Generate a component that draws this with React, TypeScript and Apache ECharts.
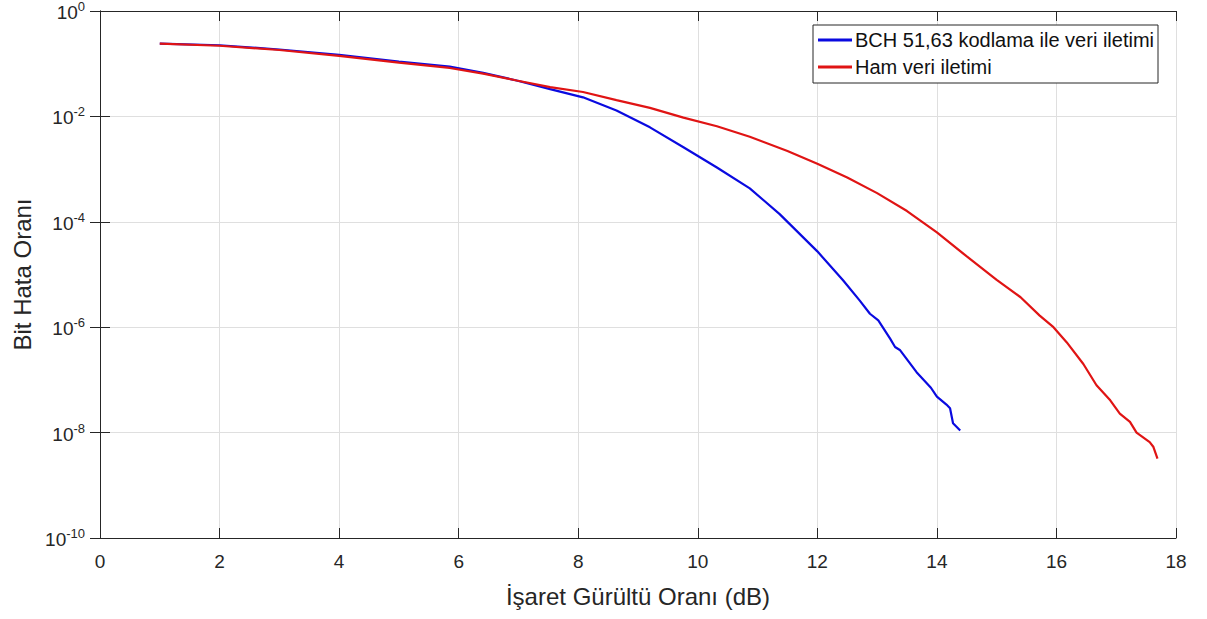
import React, { useEffect, useRef } from "react";
import * as echarts from "echarts";

const xTicks = [0, 2, 4, 6, 8, 10, 12, 14, 16, 18];
const yMin = 1e-10;
const yMax = 1;

const bchName = "BCH 51,63 kodlama ile veri iletimi";
const rawName = "Ham veri iletimi";

const bchX = [1, 2, 3, 4, 5, 5.85, 6.41, 6.97, 7.53, 8.08, 8.64, 9.2, 9.76, 10.32, 10.87, 11.37, 12.0, 12.43, 12.71, 12.88, 13.02, 13.22, 13.3, 13.38, 13.66, 13.9, 14.0, 14.16, 14.22, 14.27, 14.39];
const bchY = [0.24, 0.224, 0.186, 0.148, 0.11, 0.088, 0.067, 0.048, 0.033, 0.023, 0.0129, 6.2e-3, 2.6e-3, 1.07e-3, 4.3e-4, 1.4e-4, 2.75e-5, 7.8e-6, 3.2e-6, 1.8e-6, 1.35e-6, 6.0e-7, 4.2e-7, 3.7e-7, 1.4e-7, 7.1e-8, 4.8e-8, 3.4e-8, 2.9e-8, 1.5e-8, 1.1e-8];

const rawX = [1, 2, 3, 4, 5, 5.85, 6.41, 6.97, 7.53, 8.08, 8.64, 9.2, 9.76, 10.32, 10.87, 11.5, 12, 12.5, 13, 13.5, 14, 14.5, 15, 15.4, 15.72, 15.95, 16.17, 16.45, 16.67, 16.9, 17.06, 17.23, 17.34, 17.56, 17.62, 17.69];
const rawY = [0.24, 0.219, 0.182, 0.141, 0.105, 0.083, 0.065, 0.048, 0.036, 0.029, 0.0204, 0.0145, 9.5e-3, 6.5e-3, 4.1e-3, 2.2e-3, 1.26e-3, 6.9e-4, 3.5e-4, 1.6e-4, 6.3e-5, 2.2e-5, 7.9e-6, 3.7e-6, 1.66e-6, 1.0e-6, 5.2e-7, 2.0e-7, 7.9e-8, 4.1e-8, 2.3e-8, 1.6e-8, 1.0e-8, 6.6e-9, 5.4e-9, 3.2e-9];

const FONT = "'Liberation Sans', Arial, sans-serif";
const AX = "#262626";

export default function App() {
  const ref = useRef<HTMLDivElement>(null);
  useEffect(() => {
    if (!ref.current) return;
    const chart = echarts.init(ref.current, undefined, { renderer: "svg" });
    const pairs = (xs: number[], ys: number[]) => xs.map((x, i) => [x, ys[i]]);
    const common = {
      axisLine: { show: true, lineStyle: { color: AX, width: 1 } },
      axisTick: { show: true, inside: true, length: 10, lineStyle: { color: AX } },
    };
    chart.setOption({
      animation: false,
      backgroundColor: "#ffffff",
      textStyle: { fontFamily: FONT },
      grid: { left: 100, right: 31, top: 10, bottom: 81, containLabel: false },
      legend: {
        left: 813,
        top: 25,
        orient: "vertical",
        backgroundColor: "#ffffff",
        borderColor: AX,
        borderWidth: 1,
        borderRadius: 0,
        padding: [3, 4, 4, 5],
        itemGap: 3,
        itemWidth: 34,
        itemHeight: 3,
        icon: "rect",
        textStyle: { fontFamily: FONT, fontSize: 20, color: "#111", lineHeight: 24, padding: [0, 0, 0, -2] },
        data: [bchName, rawName],
      },
      xAxis: [
        {
          type: "value",
          min: 0,
          max: 18,
          interval: 2,
          ...common,
          axisLabel: { color: AX, fontSize: 19, margin: 14, fontFamily: FONT },
          splitLine: { show: true, lineStyle: { color: "#dfdfdf", width: 1 } },
          name: "İşaret Gürültü Oranı (dB)",
          nameLocation: "middle",
          nameGap: 46,
          nameTextStyle: { fontSize: 24, color: AX, fontFamily: FONT },
        },
        {
          type: "value",
          position: "top",
          min: 0,
          max: 18,
          interval: 2,
          ...common,
          axisLabel: { show: false },
          splitLine: { show: false },
        },
      ],
      yAxis: [
        {
          type: "log",
          logBase: 10,
          min: yMin,
          max: yMax,
          interval: 2,
          ...common,
          minorTick: { show: false },
          splitLine: { show: true, lineStyle: { color: "#dfdfdf", width: 1 } },
          axisLabel: {
            margin: 15,
            color: AX,
            formatter: (v: number) => {
              const e = Math.round(Math.log10(v));
              return "{b|10}{s|" + e + "}";
            },
            rich: {
              b: { fontSize: 19, color: AX, fontFamily: FONT, verticalAlign: "bottom", padding: [0, 0, 0, 0] },
              s: { fontSize: 13, color: AX, fontFamily: FONT, verticalAlign: "bottom", padding: [0, 0, 9, 0] },
            },
          },
          name: "Bit Hata Oranı",
          nameLocation: "middle",
          nameGap: 66,
          nameRotate: 90,
          nameTextStyle: { fontSize: 24, color: AX, fontFamily: FONT },
        },
        {
          type: "log",
          logBase: 10,
          position: "right",
          min: yMin,
          max: yMax,
          interval: 2,
          ...common,
          axisLabel: { show: false },
          splitLine: { show: false },
        },
      ],
      series: [
        {
          name: bchName,
          type: "line",
          showSymbol: false,
          symbol: "none",
          data: pairs(bchX, bchY),
          lineStyle: { color: "#0a0ae0", width: 2.2 },
          itemStyle: { color: "#0a0ae0" },
          z: 3,
        },
        {
          name: rawName,
          type: "line",
          showSymbol: false,
          symbol: "none",
          data: pairs(rawX, rawY),
          lineStyle: { color: "#e01414", width: 2.2 },
          itemStyle: { color: "#e01414" },
          z: 4,
        },
      ],
    });
    return () => chart.dispose();
  }, []);
  return (
    <div
      ref={ref}
      style={{ position: "absolute", left: 0, top: 0, width: 1207, height: 619, background: "#fff" }}
    />
  );
}
